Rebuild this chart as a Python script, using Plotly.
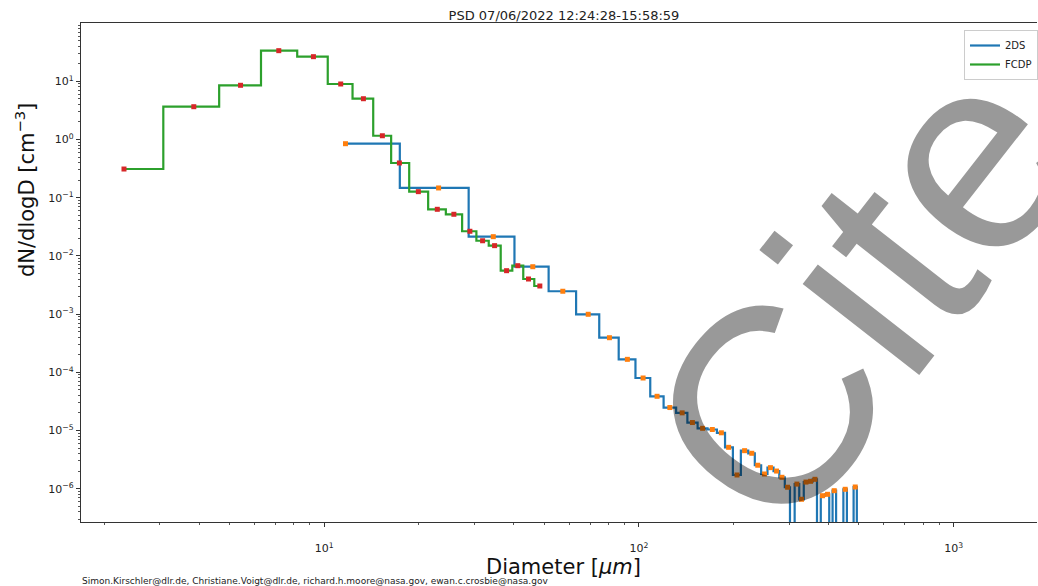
import numpy as np
import plotly.graph_objects as go

# ---------------- data ----------------
fcdp_d = [2.31, 3.85, 5.42, 7.17, 9.24, 11.28, 13.32, 15.30, 17.33, 19.91,
          22.87, 25.82, 29.03, 31.86, 34.78, 37.97, 41.22, 44.58, 48.43]
fcdp_v = [0.311, 3.66, 8.54, 33.6, 26.5, 8.99, 5.02, 1.16, 0.395, 0.127,
          0.0632, 0.0519, 0.0265, 0.0182, 0.0150, 0.00557, 0.00679, 0.00401, 0.00304]

tds_d = [11.68, 23.09, 34.45, 46.0, 57.3, 69.0, 80.6, 91.9, 103.1, 114.2,
         125.4, 137.2, 147.9, 159.4, 171.1, 182.8, 192.8, 205.0, 216.7, 228.4,
         238.6, 250.6, 261.8, 273.8, 284.8, 296.8, 307.3, 317.8, 328.7, 339.5,
         351.1, 362.6, 373.5, 383.3, 397.6, 407.5, 417.5, 429.0, 440.5, 452.4,
         463.8, 475.3, 486.9, 498.4]
tds_v = [0.847, 0.147, 0.0214, 0.00652, 0.00247, 0.000993, 3.93e-4, 1.67e-4, 7.98e-5, 3.87e-5,
         2.48e-5, 2.01e-5, 1.37e-5, 1.09e-5, 1.04e-5, 9.13e-6, 5.14e-6, 1.72e-6, 4.50e-6, 4.06e-6,
         2.53e-6, 1.79e-6, 2.30e-6, 2.01e-6, 1.57e-6, 1.06e-6, 0, 1.20e-6, 6.58e-7, 1.30e-6,
         1.34e-6, 1.45e-6, 0, 7.58e-7, 8.01e-7, 0, 9.24e-7, 0, 0, 9.77e-7,
         0, 0, 1.07e-6, 0]

series_names = ["2DS", "FCDP"]
x_tick_vals = [10, 100, 1000]
x_tick_text = ["10<sup>1</sup>", "10<sup>2</sup>", "10<sup>3</sup>"]
y_tick_vals = [1e-6, 1e-5, 1e-4, 1e-3, 1e-2, 1e-1, 1e0, 1e1]
y_tick_text = ["10<sup>\u22126</sup>", "10<sup>\u22125</sup>", "10<sup>\u22124</sup>",
               "10<sup>\u22123</sup>", "10<sup>\u22122</sup>", "10<sup>\u22121</sup>",
               "10<sup>0</sup>", "10<sup>1</sup>"]
title_text = "PSD 07/06/2022 12:24:28-15:58:59"
x_label = "Diameter [<i>\u03bcm</i>]"
y_label = "dN/dlogD [cm<sup>\u22123</sup>]"
footer_text = ("Simon.Kirschler@dlr.de, Christiane.Voigt@dlr.de, "
               "richard.h.moore@nasa.gov, ewan.c.crosbie@nasa.gov")
watermark_text = "Cite"

# ---------------- layout constants ----------------
W, H = 1038, 586
L, R, T, B = 81, 1038, 23, 522          # plot area in pixels
PW, PH = R - L, B - T
FONT = "DejaVu Sans"

C_2DS, C_FCDP = "#1f77b4", "#2ca02c"
M_2DS, M_FCDP = "#ff7f0e", "#d62728"


def px_x(p):
    return (p - L) / PW


def px_y(p):
    return (B - p) / PH


def step_mid(d, v, floor=1e-12):
    """matplotlib step(where='mid') path, zeros clipped far below the axis."""
    d = np.asarray(d, float)
    v = np.asarray(v, float)
    v = np.where(v > 0, v, floor)
    mids = (d[:-1] + d[1:]) / 2.0
    xs = np.concatenate([[d[0]], mids, [d[-1]]])
    ys = np.concatenate([v, [v[-1]]])
    return xs, ys


def positive(d, v):
    d = np.asarray(d, float)
    v = np.asarray(v, float)
    m = v > 0
    return d[m], v[m]


fig = go.Figure()

x1, y1 = step_mid(tds_d, tds_v)
x2, y2 = step_mid(fcdp_d, fcdp_v)
fig.add_trace(go.Scatter(x=x1, y=y1, mode="lines", name=series_names[0],
                         line=dict(color=C_2DS, width=2.2, shape="hv")))
fig.add_trace(go.Scatter(x=x2, y=y2, mode="lines", name=series_names[1],
                         line=dict(color=C_FCDP, width=2.2, shape="hv")))
mx1, my1 = positive(tds_d, tds_v)
mx2, my2 = positive(fcdp_d, fcdp_v)
fig.add_trace(go.Scatter(x=mx1, y=my1, mode="markers", showlegend=False,
                         marker=dict(symbol="square", size=5, color=M_2DS)))
fig.add_trace(go.Scatter(x=mx2, y=my2, mode="markers", showlegend=False,
                         marker=dict(symbol="square", size=5, color=M_FCDP)))

# minor tick positions
x_minor = [k * 10.0 ** e for e in range(0, 4) for k in range(2, 10)]
y_minor = [k * 10.0 ** e for e in range(-7, 3) for k in range(2, 10)]

x_lo = 1 - (324.5 - L) / 315.0
x_hi = 3 + (R - 954.5) / 315.0
y_hi = (139.5 - T) / 58.2
y_lo = -(B - 139.5) / 58.2

fig.update_layout(
    width=W, height=H,
    margin=dict(l=L, r=W - R, t=T, b=H - B, pad=0),
    paper_bgcolor="white", plot_bgcolor="white",
    font=dict(family=FONT, size=11, color="#222222"),
    title=dict(text=title_text, x=564 / W, xref="container", xanchor="center",
               y=1 - 15 / H, yref="container", yanchor="middle",
               font=dict(family=FONT, size=13, color="#222222")),
    xaxis=dict(type="log", range=[x_lo, x_hi], showgrid=False, zeroline=False,
               showline=True, linecolor="#333333", linewidth=1.2, mirror=True,
               ticks="outside", ticklen=4, tickcolor="#333333",
               tickmode="array", tickvals=x_tick_vals, ticktext=x_tick_text,
               ticklabelstandoff=12,
               minor=dict(ticks="outside", ticklen=2, tickcolor="#555555",
                          tickmode="array", tickvals=x_minor, showgrid=False),
               tickfont=dict(family=FONT, size=11, color="#222222")),
    yaxis=dict(type="log", range=[y_lo, y_hi], showgrid=False, zeroline=False,
               showline=True, linecolor="#333333", linewidth=1.2, mirror=False,
               ticks="outside", ticklen=4, tickcolor="#333333",
               tickmode="array", tickvals=y_tick_vals, ticktext=y_tick_text,
               minor=dict(ticks="outside", ticklen=2, tickcolor="#555555",
                          tickmode="array", tickvals=y_minor, showgrid=False),
               tickfont=dict(family=FONT, size=11, color="#222222")),
    legend=dict(x=px_x(965), y=px_y(30), xanchor="left", yanchor="top",
                bgcolor="rgba(255,255,255,0.85)", bordercolor="#cccccc",
                borderwidth=1, font=dict(family=FONT, size=10, color="#222222"),
                itemwidth=30, tracegroupgap=0),
    showlegend=True,
)

fig.add_annotation(text=x_label, x=px_x(564), y=px_y(567), xref="paper", yref="paper",
                   showarrow=False, xanchor="center", yanchor="middle",
                   font=dict(family=FONT, size=21, color="#111111"))
fig.add_annotation(text=y_label, x=px_x(25), y=px_y(190), xref="paper", yref="paper",
                   showarrow=False, xanchor="center", yanchor="middle", textangle=-90,
                   font=dict(family=FONT, size=21, color="#111111"))
fig.add_annotation(text=footer_text, x=px_x(80), y=px_y(581), xref="paper", yref="paper",
                   showarrow=False, xanchor="left", yanchor="middle",
                   font=dict(family=FONT, size=9, color="#222222"))
fig.add_annotation(text=watermark_text, x=px_x(861), y=px_y(293), xref="paper", yref="paper",
                   showarrow=False, xanchor="center", yanchor="middle", textangle=-52,
                   font=dict(family="Liberation Sans", size=280, color="rgba(0,0,0,0.4)"))

fig.write_html("out.html", config={"displayModeBar": False},
               post_script="document.body.style.margin='0';")
